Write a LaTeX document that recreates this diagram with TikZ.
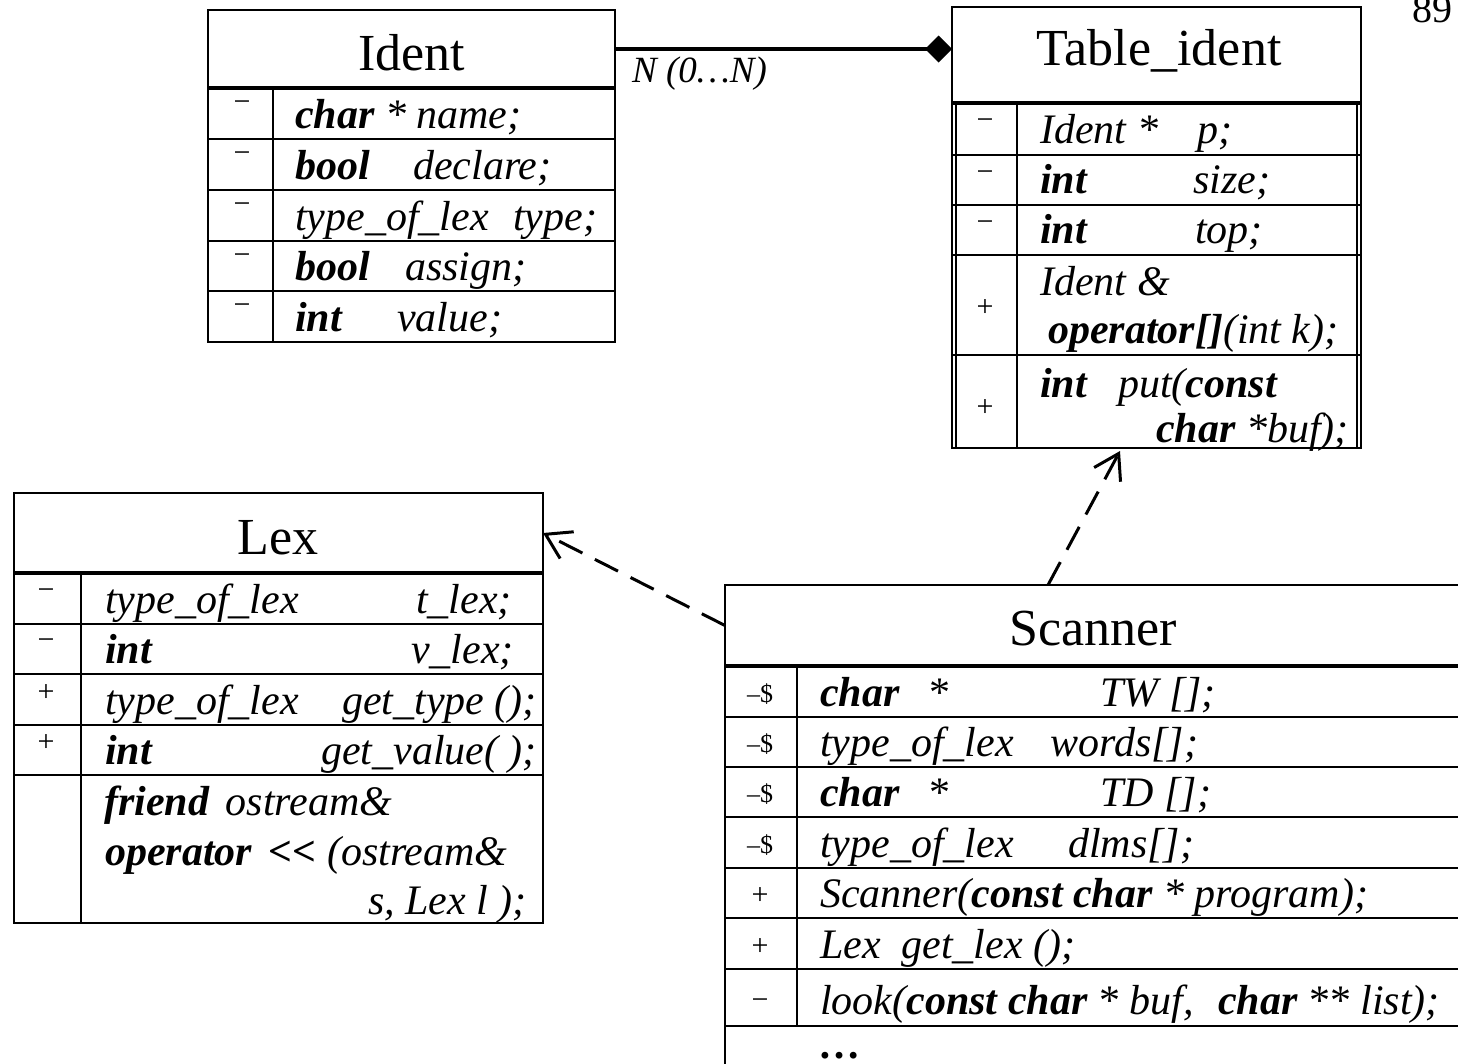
\documentclass[tikz,border=0pt]{standalone}
\usepackage{fontspec}
\setmainfont{Liberation Serif}
\usetikzlibrary{arrows.meta}
\newcommand\bkw[1]{\textbf{#1}}

\begin{document}
\begin{tikzpicture}[x=1pt,y=-1pt,
  clsbox/.style={draw, line width=2.2pt, inner sep=0pt, outer sep=0pt, anchor=north west},
  rowline/.style={line width=2.6pt},
  sepline/.style={line width=4.2pt},
  dblline/.style={line width=1.2pt},
  clstitle/.style={font=\fontsize{52}{52}\selectfont, anchor=base, inner sep=0pt},
  membertext/.style={font=\fontsize{42}{46}\selectfont\itshape, anchor=base west, inner sep=0pt},
  memberright/.style={membertext, anchor=base east},
  visib/.style={font=\fontsize{30}{30}\selectfont, anchor=center, inner sep=0pt},
  visibs/.style={font=\fontsize{26}{26}\selectfont, anchor=center, inner sep=0pt},
  depend/.style={line width=3pt, dash pattern=on 26pt off 14pt,
    -{Straight Barb[length=24pt, width=30pt, line width=3pt]}},
  compose/.style={line width=3.4pt, -{Diamond[length=27pt, width=27pt]}},
]
\useasboundingbox (0,0) rectangle (1458,1063);
\clip (0,0) rectangle (1458,1063);

% ---------------- Ident ----------------
\node[clsbox, minimum width=407pt, minimum height=78pt] (identT) at (208,10) {};
\node[clsbox, minimum width=407pt, minimum height=254pt] (identM) at (208,88) {};
\draw[sepline] (identM.north west) -- (identM.north east);
\foreach \y in {139,190,241,291} \draw[rowline] (208,\y) -- (615,\y);
\draw[rowline] (273,88) -- (273,342);
\node[clstitle] (identName) at (411.5,70) {Ident};
\foreach \y [count=\i] in {106,157,208,259,309}
  \node[visib] (identV\i) at (242,\y) {−};
\node[membertext] (identA1) at (295,128) {\bkw{char} * name;};
\node[membertext] (identA2a) at (295,179) {\bkw{bool}};
\node[membertext] (identA2b) at (413,179) {declare;};
\node[membertext] (identA3a) at (295,230) {type\_of\_lex};
\node[membertext] (identA3b) at (513,230) {type;};
\node[membertext] (identA4a) at (295,280) {\bkw{bool}};
\node[membertext] (identA4b) at (405,280) {assign;};
\node[membertext] (identA5a) at (295,331) {\bkw{int}};
\node[membertext] (identA5b) at (397,331) {value;};

% ---------------- Table_ident ----------------
\node[clsbox, minimum width=409pt, minimum height=96pt] (tabT) at (952,7) {};
\node[clsbox, minimum width=409pt, minimum height=345pt] (tabM) at (952,103) {};
\draw[sepline] (tabM.north west) -- (tabM.north east);
\draw[dblline] (956,103) -- (956,448);
\draw[dblline] (1357,103) -- (1357,448);
\foreach \y in {155,205,255,355} \draw[rowline] (952,\y) -- (1361,\y);
\draw[rowline] (1017,103) -- (1017,448);
\node[clstitle] (tabName) at (1159,65) {Table\_ident};
\node[visib] (tabV1) at (985,124) {−};
\node[visib] (tabV2) at (985,176) {−};
\node[visib] (tabV3) at (985,226) {−};
\node[visib] (tabV4) at (985,308) {+};
\node[visib] (tabV5) at (985,408) {+};
\node[membertext] (tabA1a) at (1040,143) {Ident *};
\node[membertext] (tabA1b) at (1197,143) {p;};
\node[membertext] (tabA2a) at (1040,193) {\bkw{int}};
\node[membertext] (tabA2b) at (1193,193) {size;};
\node[membertext] (tabA3a) at (1040,243) {\bkw{int}};
\node[membertext] (tabA3b) at (1195,243) {top;};
\node[membertext] (tabA4a) at (1040,295) {Ident \&};
\node[membertext] (tabA4b) at (1048,343) {\bkw{operator[]}(int k);};
\node[membertext] (tabA5a) at (1040,397) {\bkw{int}};
\node[membertext] (tabA5b) at (1118,397) {put(\bkw{const}};
\node[memberright] (tabA5c) at (1349,442) {\bkw{char} *buf);};

% ---------------- Lex ----------------
\node[clsbox, minimum width=529pt, minimum height=80pt] (lexT) at (14,493) {};
\node[clsbox, minimum width=529pt, minimum height=350pt] (lexM) at (14,573) {};
\draw[sepline] (lexM.north west) -- (lexM.north east);
\foreach \y in {624,674,725,775} \draw[rowline] (14,\y) -- (543,\y);
\draw[rowline] (81,573) -- (81,923);
\node[clstitle] (lexName) at (278,554) {Lex};
\node[visib] (lexV1) at (46,594) {−};
\node[visib] (lexV2) at (46,644) {−};
\node[visib] (lexV3) at (46,693) {+};
\node[visib] (lexV4) at (46,743) {+};
\node[membertext] (lexA1a) at (105,613) {type\_of\_lex};
\node[memberright] (lexA1b) at (512,613) {t\_lex;};
\node[membertext] (lexA2a) at (105,663) {\bkw{int}};
\node[memberright] (lexA2b) at (514,663) {v\_lex;};
\node[membertext] (lexA3a) at (105,714) {type\_of\_lex};
\node[memberright] (lexA3b) at (537,714) {get\_type ();};
\node[membertext] (lexA4a) at (105,764) {\bkw{int}};
\node[memberright] (lexA4b) at (537,764) {get\_value( );};
\node[membertext] (lexA5a) at (104,815) {\bkw{friend}\hspace{6pt} ostream\&};
\node[membertext] (lexA5b) at (105,865) {\bkw{operator}\hspace{6pt} \bkw{<\kern0pt<} (ostream\&};
\node[memberright] (lexA5c) at (527,914) {s, Lex l );};

% ---------------- Scanner ----------------
\node[clsbox, minimum width=780pt, minimum height=81pt] (scanT) at (725,585) {};
\node[clsbox, minimum width=780pt, minimum height=430pt] (scanM) at (725,666) {};
\draw[sepline] (scanM.north west) -- (scanM.north east);
\foreach \y in {717,767,817,868,918,969,1026} \draw[rowline] (725,\y) -- (1470,\y);
\draw[rowline] (797,666) -- (797,1026);
\node[clstitle] (scanName) at (1093,645) {Scanner};
\foreach \y [count=\i] in {694,744,794,845}
  \node[visibs] (scanV\i) at (760,\y) {–\$};
\node[visib] (scanV5) at (760,896) {+};
\node[visib] (scanV6) at (760,947) {+};
\node[visib] (scanV7) at (760,1004) {−};
\node[membertext] (scanA1a) at (820,706) {\bkw{char}\hspace{28pt}*};
\node[membertext] (scanA1b) at (1100,706) {TW [];};
\node[membertext] (scanA2a) at (820,756) {type\_of\_lex};
\node[membertext] (scanA2b) at (1050,756) {words[];};
\node[membertext] (scanA3a) at (820,806) {\bkw{char}\hspace{28pt}*};
\node[membertext] (scanA3b) at (1100,806) {TD [];};
\node[membertext] (scanA4a) at (820,857) {type\_of\_lex};
\node[membertext] (scanA4b) at (1068,857) {dlms[];};
\node[membertext] (scanA5) at (820,907) {Scanner(\bkw{const char} * program);};
\node[membertext] (scanA6) at (820,958) {Lex\hspace{10pt} get\_lex ();};
\node[membertext] (scanA7) at (820,1014) {look(\bkw{const char} * buf,\hspace{14pt} \bkw{char} ** list);};
\node[membertext, font=\fontsize{42}{46}\selectfont\bfseries, text height=8pt, text depth=0pt] (scanA8) at (818,1058) {…};

% ---------------- connectors ----------------
\draw[compose] (identT.east) -- (identT.east -| tabT.west);
\node[font=\fontsize{37}{37}\selectfont\itshape, anchor=base west, inner sep=0pt] (mult) at (632,82) {N (0…N)};
\draw[depend] (scanT.west) -- (lexT.east);
\coordinate (scanTop) at ([xshift=323pt]scanT.north west);
\coordinate (tabBottom) at ([xshift=168pt,yshift=-3pt]tabM.south west);
\draw[depend] (scanTop) -- (tabBottom);

% page number
\node[font=\fontsize{40}{40}\selectfont, anchor=base east, inner sep=0pt] (pageno) at (1453,22) {89};
\end{tikzpicture}
\end{document}
